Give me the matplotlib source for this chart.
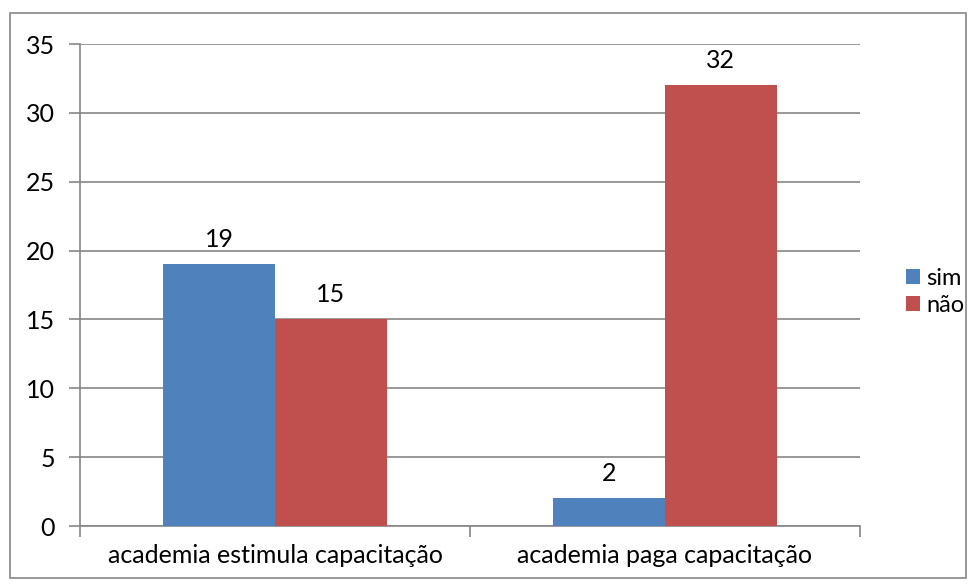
import numpy as np
import matplotlib.pyplot as plt
from matplotlib.patches import Rectangle

plt.rcParams['font.family'] = ['Lato', 'DejaVu Sans']

categories = ['academia estimula capacitação', 'academia paga capacitação']
sim = [19, 2]
nao = [15, 32]
series_names = ['sim', 'não']
colors = ['#4F81BD', '#C0504D']

W, H = 976, 586
FS = 18
fig = plt.figure(figsize=(W / 100, H / 100), dpi=100)
ax = fig.add_axes([80 / W, 1 - 526 / H, 780 / W, 482 / H])

x = np.arange(len(categories))
bw = 0.287
ax.bar(x - bw / 2, sim, bw, color=colors[0], label=series_names[0], zorder=3)
ax.bar(x + bw / 2, nao, bw, color=colors[1], label=series_names[1], zorder=3)

for xi, v in zip(x - bw / 2, sim):
    ax.text(xi, v + 1.0, str(v), ha='center', va='bottom', fontsize=FS)
for xi, v in zip(x + bw / 2, nao):
    ax.text(xi, v + 1.0, str(v), ha='center', va='bottom', fontsize=FS)

ax.set_xlim(-0.5, 1.5)
ax.set_ylim(0, 35)
ax.set_yticks(range(0, 36, 5))
ax.yaxis.grid(True, color='#868686', linewidth=1.2, zorder=0)
ax.set_axisbelow(True)

ax.set_xticks([-0.5, 0.5, 1.5], minor=False)
ax.set_xticklabels([])
ax.set_xticks(x, minor=True)
ax.set_xticklabels(categories, minor=True, fontsize=FS)
ax.tick_params(axis='x', which='major', length=8, color='#868686', width=1.2)
ax.tick_params(axis='x', which='minor', length=0, pad=13)
ax.tick_params(axis='y', length=8, color='#868686', width=1.2, labelsize=FS, pad=10)

for s in ['top', 'right']:
    ax.spines[s].set_visible(False)
for s in ['left', 'bottom']:
    ax.spines[s].set_color('#868686')
    ax.spines[s].set_linewidth(1.2)

ax.legend(loc='center left', bbox_to_anchor=(826 / 780, 0.485), frameon=False,
          fontsize=17, handlelength=0.6, handleheight=0.6, handletextpad=0.25,
          labelspacing=0.25, borderaxespad=0, borderpad=0)

fig.patches.append(Rectangle((10 / W, 8 / H), 956 / W, 565 / H, transform=fig.transFigure,
                             fill=False, edgecolor='#868686', linewidth=1.2))

fig.savefig('out.png', dpi=100)
